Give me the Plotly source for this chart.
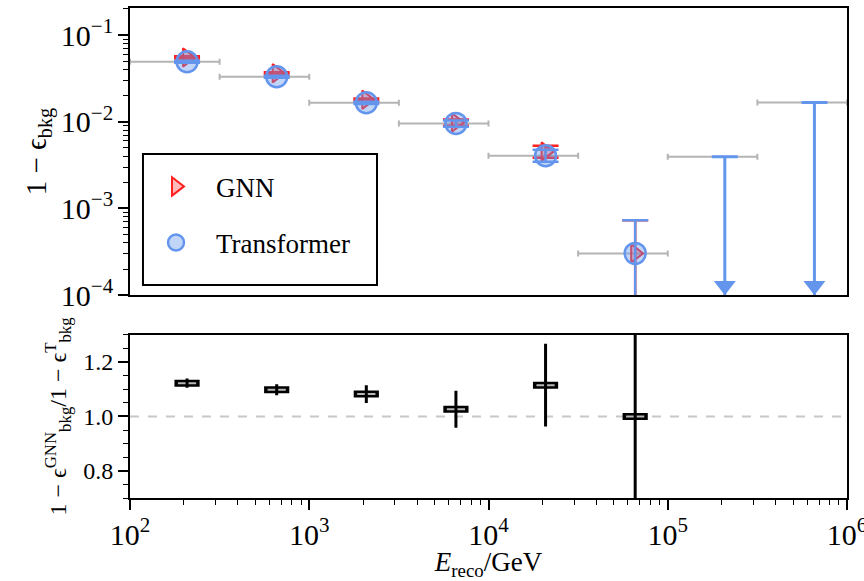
import plotly.graph_objects as go

# Energy bins (GeV) and background rejection results per bin
bin_edges = [100, 316.2, 1000, 3162.3, 10000, 31622.8, 100000, 316227.8, 1000000]

gnn = [0.0552, 0.0362, 0.0179, 0.00982, 0.00452, 0.000303]
gnn_err_up = [0.0016, 0.0010, 0.0006, 0.0008, 0.00078, 0.00043]
gnn_err_dn = [0.0016, 0.0010, 0.0006, 0.0008, 0.00068, 0.000303]

transformer = [0.0492, 0.0330, 0.01655, 0.00957, 0.00405, 0.000303]
trf_err_up = [0.0014, 0.0009, 0.0005, 0.0008, 0.0007, 0.00043]
trf_err_dn = [0.0014, 0.0009, 0.0005, 0.0008, 0.0006, 0.000303]

# Upper limits for the last two bins (no background events passing)
trf_upper_limits = [0.00394, 0.0167]

# GNN / Transformer ratio
ratio = [1.122, 1.098, 1.082, 1.026, 1.115, 1.000]
ratio_err = [0.017, 0.020, 0.033, 0.068, 0.152, 2.5]

RED = "#ff2020"
BLUE = "#6495ED"
FONT = "Liberation Serif"

centers = [(lo + hi) / 2 for lo, hi in zip(bin_edges[:-1], bin_edges[1:])]
half_widths = [(hi - lo) / 2 for lo, hi in zip(bin_edges[:-1], bin_edges[1:])]
n_meas = len(transformer)

# Axis ranges (log10 for log axes)
X_RANGE = [2, 6]
Y_TOP_RANGE = [-4, -0.688]
Y_BOT_RANGE = [0.7, 1.3]

W, H = 864, 581
M = dict(l=130, r=17, t=8, b=83)
TOP_DOMAIN = [0.414, 1.0]
BOT_DOMAIN = [0.0, 0.333]
top_px = (H - M["t"] - M["b"]) * (TOP_DOMAIN[1] - TOP_DOMAIN[0])
dec_per_px = (Y_TOP_RANGE[1] - Y_TOP_RANGE[0]) / top_px
ARROW_SIZE = 19

fig = go.Figure()

# Bin widths drawn as horizontal grey bars
fig.add_trace(go.Scatter(
    x=centers, y=transformer + trf_upper_limits, mode="markers",
    marker=dict(size=1, color="rgba(0,0,0,0)"),
    error_x=dict(type="data", array=half_widths, symmetric=True,
                 color="#b4b4b4", thickness=2, width=3),
    showlegend=False, hoverinfo="skip", xaxis="x", yaxis="y",
))

# GNN
fig.add_trace(go.Scatter(
    x=centers[:n_meas], y=gnn, mode="markers", name="GNN",
    legendgroup="gnn",
    marker=dict(symbol="triangle-right", size=16, color="rgba(255,60,60,0.35)",
                line=dict(color=RED, width=2)),
    error_y=dict(type="data", array=gnn_err_up, arrayminus=gnn_err_dn,
                 symmetric=False, color=RED, thickness=2.5, width=13),
    xaxis="x", yaxis="y",
))

# Transformer uncertainties, then markers
fig.add_trace(go.Scatter(
    x=centers[:n_meas], y=transformer, mode="markers",
    marker=dict(size=1, color="rgba(0,0,0,0)"),
    error_y=dict(type="data", array=trf_err_up, arrayminus=trf_err_dn,
                 symmetric=False, color=BLUE, thickness=2.5, width=13),
    showlegend=False, hoverinfo="skip", xaxis="x", yaxis="y",
))
fig.add_trace(go.Scatter(
    x=centers[:n_meas], y=transformer, mode="markers", name="Transformer",
    legendgroup="trf",
    marker=dict(symbol="circle", size=21, color="rgba(100,149,237,0.4)",
                line=dict(color=BLUE, width=2.5)),
    xaxis="x", yaxis="y",
))

# Upper limits: bar from the limit down to zero, with an arrow head
fig.add_trace(go.Scatter(
    x=centers[n_meas:], y=trf_upper_limits, mode="markers",
    marker=dict(size=1, color="rgba(0,0,0,0)"),
    error_y=dict(type="data", array=[0] * len(trf_upper_limits),
                 arrayminus=trf_upper_limits, symmetric=False,
                 color=BLUE, thickness=3, width=13),
    showlegend=False, hoverinfo="skip", xaxis="x", yaxis="y",
))
arrow_y = 10 ** (Y_TOP_RANGE[0] + (ARROW_SIZE / 2) * dec_per_px)
fig.add_trace(go.Scatter(
    x=centers[n_meas:], y=[arrow_y] * len(trf_upper_limits), mode="markers",
    marker=dict(symbol="triangle-down", size=ARROW_SIZE, color=BLUE,
                line=dict(width=0)),
    showlegend=False, hoverinfo="skip", xaxis="x", yaxis="y",
))

# Ratio panel: boxed horizontal markers with vertical uncertainties
ratio_x = centers[:len(ratio)]
fig.add_trace(go.Scatter(
    x=ratio_x, y=ratio, mode="markers",
    marker=dict(symbol="line-ew", size=18, line=dict(color="black", width=7)),
    showlegend=False, hoverinfo="skip", xaxis="x2", yaxis="y2",
))
fig.add_trace(go.Scatter(
    x=ratio_x, y=ratio, mode="markers",
    marker=dict(symbol="line-ew", size=13, line=dict(color="#b8b8b8", width=2)),
    showlegend=False, hoverinfo="skip", xaxis="x2", yaxis="y2",
))
fig.add_trace(go.Scatter(
    x=ratio_x, y=ratio, mode="markers",
    marker=dict(size=1, color="rgba(0,0,0,0)"),
    error_y=dict(type="data", array=ratio_err, symmetric=True,
                 color="black", thickness=3, width=0),
    showlegend=False, hoverinfo="skip", xaxis="x2", yaxis="y2",
))

tick_font = dict(family=FONT, size=24, color="black")
title_font = dict(family=FONT, size=27, color="black")
axis_common = dict(showline=True, linecolor="black", linewidth=2, mirror=True,
                   showgrid=False, zeroline=False, automargin=False)

fig.update_layout(
    width=W, height=H, margin=M,
    paper_bgcolor="white", plot_bgcolor="white",
    font=dict(family=FONT, color="black"),
    xaxis=dict(type="log", range=X_RANGE, anchor="y", domain=[0, 1],
               showticklabels=False, ticks="", **axis_common),
    xaxis2=dict(type="log", range=X_RANGE, anchor="y2", domain=[0, 1],
                matches="x", ticks="outside", ticklen=10, tickwidth=1.6,
                tickcolor="black", dtick=1, exponentformat="power",
                tickfont=tick_font, ticklabeloverflow="allow",
                minor=dict(ticks="outside", ticklen=5, tickwidth=1.3,
                           tickcolor="black", dtick="D1", showgrid=False),
                title=dict(text="<i>E</i><sub>reco</sub>/GeV", font=title_font,
                           standoff=9),
                **axis_common),
    yaxis=dict(type="log", range=Y_TOP_RANGE, anchor="x", domain=TOP_DOMAIN,
               ticks="outside", ticklen=10, tickwidth=1.6, tickcolor="black",
               dtick=1, exponentformat="power", tickfont=tick_font,
               minor=dict(ticks="outside", ticklen=5, tickwidth=1.3,
                          tickcolor="black", dtick="D1", showgrid=False),
               title=dict(text="1 − ϵ<sub>bkg</sub>",
                          font=dict(family=FONT, size=29, color="black"),
                          standoff=6),
               **axis_common),
    yaxis2=dict(range=Y_BOT_RANGE, anchor="x2", domain=BOT_DOMAIN,
                ticks="outside", ticklen=10, tickwidth=1.6, tickcolor="black",
                tickvals=[0.8, 1.0, 1.2], tickformat=".1f", tickfont=tick_font,
                minor=dict(ticks="outside", ticklen=5, tickwidth=1.3,
                           tickcolor="black", dtick=0.05, showgrid=False),
                title=dict(text="1 − ϵ<sup>GNN</sup><sub>bkg</sub>/1 − ϵ<sup>T</sup><sub>bkg</sub>",
                           font=dict(family=FONT, size=24, color="black"),
                           standoff=10),
                **axis_common),
    legend=dict(x=0.0084, y=0.685, xanchor="left", yanchor="top",
                bgcolor="rgba(0,0,0,0)", borderwidth=0,
                font=dict(family=FONT, size=27, color="black"),
                traceorder="grouped", tracegroupgap=18, itemwidth=70),
    shapes=[
        # legend frame
        dict(type="rect", xref="paper", yref="paper",
             x0=0.0181, x1=0.3445, y0=0.4347, y1=0.702,
             line=dict(color="black", width=2), fillcolor="white", layer="below"),
        # reference line at ratio = 1
        dict(type="line", xref="x2 domain", yref="y2", x0=0, x1=1, y0=1, y1=1,
             line=dict(color="#c8c8c8", width=2, dash="dash"), layer="below"),
    ],
)

fig.write_html("out.html")
